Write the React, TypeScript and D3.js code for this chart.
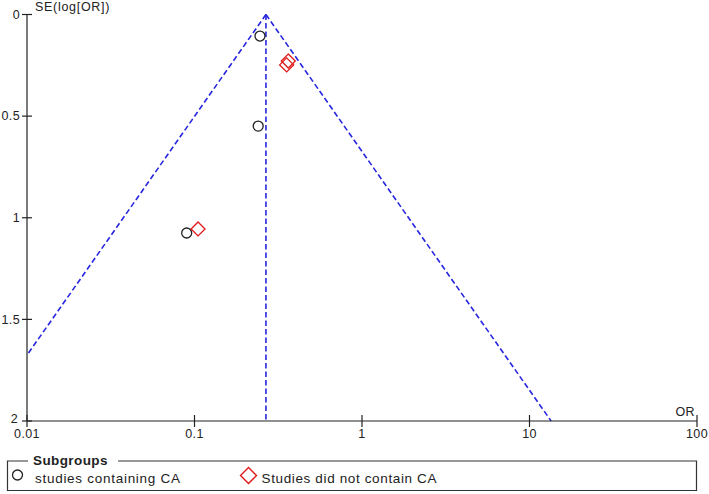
import React from "react";
import * as d3 from "d3";

const studiesWithCA_OR = [0.246, 0.240, 0.0898];
const studiesWithCA_SE = [0.106, 0.549, 1.075];
const studiesWithoutCA_OR = [0.363, 0.355, 0.105];
const studiesWithoutCA_SE = [0.229, 0.248, 1.055];
const pooledOR = 0.267;
const xTicks = [0.01, 0.1, 1, 10, 100];
const xTickLabels = ["0.01", "0.1", "1", "10", "100"];
const yTicks = [0, 0.5, 1, 1.5, 2];
const yTickLabels = ["0", "0.5", "1", "1.5", "2"];
const legendLabels = ["studies containing CA", "Studies did not contain CA"];

const W = 709;
const H = 494;
const FONT = "Arial, 'Liberation Sans', sans-serif";

export default function App() {
  const x = d3.scaleLog().domain([0.01, 100]).range([27, 697]);
  const y = d3.scaleLinear().domain([0, 2]).range([14.5, 421]);

  const lnP = Math.log(pooledOR);
  const leftSEmax = Math.min(2, (lnP - Math.log(0.01)) / 1.96);
  const rightSEmax = Math.min(2, (Math.log(100) - lnP) / 1.96);
  const line = d3
    .line<[number, number]>()
    .x((d) => x(d[0]))
    .y((d) => y(d[1]));
  const leftLine: [number, number][] = [
    [pooledOR, 0],
    [Math.exp(lnP - 1.96 * leftSEmax), leftSEmax],
  ];
  const rightLine: [number, number][] = [
    [pooledOR, 0],
    [Math.exp(lnP + 1.96 * rightSEmax), rightSEmax],
  ];
  const midLine: [number, number][] = [
    [pooledOR, 0],
    [pooledOR, 2],
  ];

  const diamond = (cx: number, cy: number, r: number) =>
    `M${cx},${cy - r}L${cx + r},${cy}L${cx},${cy + r}L${cx - r},${cy}Z`;

  const blue = "#2626e0";
  const red = "#e01818";
  const axisColor = "#222";

  return (
    <div style={{ position: "absolute", left: 0, top: 0 }}>
      <svg width={W} height={H} style={{ display: "block", background: "#fff" }}>
        <rect width={W} height={H} fill="#fff" />
        <g fill="none" stroke={blue} strokeWidth={1.6} strokeDasharray="5.5,3">
          <path d={line(leftLine) || ""} />
          <path d={line(rightLine) || ""} />
          <path d={line(midLine) || ""} />
        </g>

        <line x1={27} x2={27} y1={y(0)} y2={y(2)} stroke={axisColor} strokeWidth={1.2} />
        {yTicks.map((t, i) => (
          <g key={"y" + i}>
            <line x1={22} x2={32} y1={y(t)} y2={y(t)} stroke={axisColor} strokeWidth={1.2} />
            <text
              x={i === yTicks.length - 1 ? 18 : 20}
              y={i === yTicks.length - 1 ? y(t) - 1 : y(t) + 1}
              textAnchor="end"
              dominantBaseline="middle"
              fontFamily={FONT}
              fontSize={12.5}
              letterSpacing={0.4}
              fill="#222"
            >
              {yTickLabels[i]}
            </text>
          </g>
        ))}
        <text x={35} y={10.5} fontFamily={FONT} fontSize={12.5} letterSpacing={0.7} fill="#222">
          SE(log[OR])
        </text>

        <line x1={x(0.01)} x2={x(100)} y1={y(2)} y2={y(2)} stroke={axisColor} strokeWidth={1.2} />
        {xTicks.map((t, i) => (
          <g key={"x" + i}>
            <line x1={x(t)} x2={x(t)} y1={y(2) - 6} y2={y(2) + 6} stroke={axisColor} strokeWidth={1.2} />
            <text
              x={x(t)}
              y={438}
              textAnchor="middle"
              fontFamily={FONT}
              fontSize={12.5}
              letterSpacing={0.4}
              fill="#222"
            >
              {xTickLabels[i]}
            </text>
          </g>
        ))}
        <text x={695} y={416} textAnchor="end" fontFamily={FONT} fontSize={12.5} letterSpacing={0.4} fill="#222">
          OR
        </text>

        {studiesWithCA_OR.map((v, i) => (
          <circle
            key={"c" + i}
            cx={x(v)}
            cy={y(studiesWithCA_SE[i])}
            r={5}
            fill="none"
            stroke="#222"
            strokeWidth={1.3}
          />
        ))}
        {studiesWithoutCA_OR.map((v, i) => (
          <path
            key={"d" + i}
            d={diamond(x(v), y(studiesWithoutCA_SE[i]), 7)}
            fill="none"
            stroke={red}
            strokeWidth={1.3}
          />
        ))}

        <path
          d={`M28,461 L7.5,461 L7.5,490.5 L696.5,490.5 L696.5,461 L118,461`}
          fill="none"
          stroke="#333"
          strokeWidth={1.2}
        />
        <text x={33} y={465} fontFamily={FONT} fontSize={13.5} fontWeight="bold" letterSpacing={0.4} fill="#222">
          Subgroups
        </text>
        <circle cx={17.5} cy={475} r={5} fill="none" stroke="#222" strokeWidth={1.3} />
        <text x={35} y={483} fontFamily={FONT} fontSize={13.5} textLength={145} lengthAdjust="spacing" fill="#222">
          {legendLabels[0]}
        </text>
        <path d={diamond(248.5, 475.5, 8)} fill="none" stroke={red} strokeWidth={1.4} />
        <text x={261.5} y={483} fontFamily={FONT} fontSize={13.5} textLength={175} lengthAdjust="spacing" fill="#222">
          {legendLabels[1]}
        </text>
      </svg>
    </div>
  );
}
